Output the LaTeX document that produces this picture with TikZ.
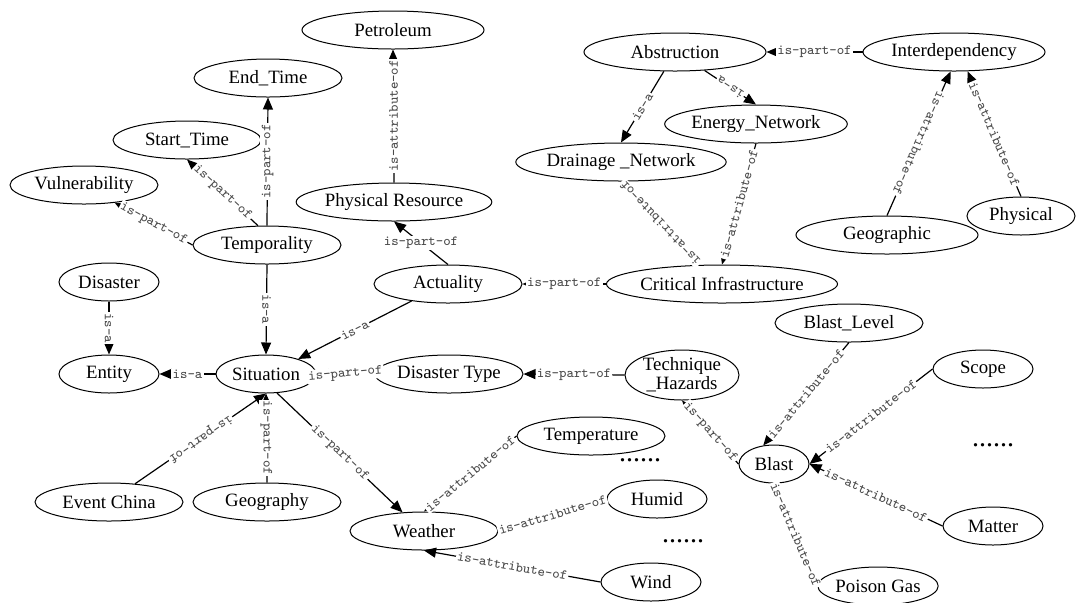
\documentclass[tikz,border=0pt]{standalone}
\usepackage{fontspec}
\setmainfont{Liberation Serif}
\usetikzlibrary{shapes.geometric,arrows.meta}
\definecolor{lab}{HTML}{4A4A4A}
\tikzset{
  ent/.style={ellipse,draw,line width=0.5pt,inner sep=0pt,minimum height=19pt,font=\fontsize{9.4}{9.6}\selectfont},
  w1/.style={ent,minimum width=50pt},
  w2/.style={ent,minimum width=74pt},
  w3/.style={ent,minimum width=91pt},
  w4/.style={ent,minimum width=104pt},
  lbl/.style={font=\fontsize{7}{8}\selectfont\ttfamily,text=lab,fill=white,inner sep=0.6pt},
  etc/.style={font=\fontsize{14}{14}\selectfont}
}

\begin{document}
\begin{tikzpicture}[x=0.5pt,y=-0.5pt,line width=0.6pt,>={Triangle[length=6pt,width=5pt]}]
\useasboundingbox (0,0) rectangle (1077,602);
\node[w3] (petroleum) at (393,30) {Petroleum};
\node[w2] (endtime) at (268,78) {End\_Time};
\node[w2] (starttime) at (187,140) {Start\_Time};
\node[w2] (vulner) at (84,185) {Vulnerability};
\node[w2] (temporality) at (267,245) {Temporality};
\node[w1] (disaster) at (109,282) {Disaster};
\node[w3] (physres) at (394,202) {Physical Resource};
\node[w2] (actuality) at (448,284) {Actuality};
\node[w3] (abstruction) at (675,52) {Abstruction};
\node[w3] (interdep) at (954,52) {Interdependency};
\node[w3] (energy) at (756,124) {Energy\_Network};
\node[w4] (drainage) at (621,162) {Drainage \_Network};
\node[w4] (critical) at (722,284) {Critical Infrastructure};
\node[w3] (geographic) at (887,235) {Geographic};
\node[ent,minimum width=54pt] (physical) at (1021,216) {Physical};
\node[w1] (entity) at (109,374) {Entity};
\node[w1] (situation) at (266,374) {Situation};
\node[w2] (eventchina) at (109,502) {Event China};
\node[w2] (geography) at (267,502) {Geography};
\node[w2] (distype) at (449,374) {Disaster Type};
\node[ent,minimum width=57pt,minimum height=25pt,align=center] (technique) at (682,375) {Technique\\\_Hazards};
\node[w2] (temperature) at (591,436) {Temperature};
\node[w1] (humid) at (657,499) {Humid};
\node[w2] (weather) at (424,531) {Weather};
\node[w1] (wind) at (651,582) {Wind};
\node[w2] (blastlevel) at (849,323) {Blast\_Level};
\node[w1] (scope) at (983,369) {Scope};
\node[ent,minimum width=35pt] (blast) at (774,464) {Blast};
\node[w1] (matter) at (993,526) {Matter};
\node[ent,minimum width=60pt] (poisongas) at (878,586) {Poison Gas};
\node[etc] (etcA) at (640,460) {......};
\node[etc] (etcB) at (683,541) {......};
\node[etc] (etcC) at (993,445) {......};

\draw[->] (temporality.north) -- node[lbl,rotate=90] {is-part-of} (endtime.south);
\draw[->] (temporality.115) -- node[lbl,sloped] {is-part-of} (starttime.south);
\draw[->] (temporality.west) -- node[lbl,sloped] {is-part-of} (vulner.-30);
\draw[->] (temporality.south) -- node[lbl,rotate=-90] {is-a} (situation.north);
\draw[->] (disaster.south) -- node[lbl,rotate=-90] {is-a} (entity.north);
\draw[->] (situation.west) -- node[lbl] {is-a} (entity.east);
\draw[->] (actuality.205) -- node[lbl,sloped] {is-a} (situation.25);
\draw[->] (actuality.north) -- node[lbl] {is-part-of} (physres.south);
\draw[->] (physres.north) -- node[lbl,rotate=90] {is-attribute-of} (petroleum.south);
\draw[->] (critical.west) -- node[lbl] {is-part-of} (actuality.east);
\draw[->] (interdep.west) -- node[lbl] {is-part-of} (abstruction.east);
\draw[->] (abstruction.-120) -- node[lbl,sloped] {is-a} (drainage.north);
\draw[<-] (energy.north) -- node[lbl,sloped,allow upside down] {is-a} (abstruction.-32);
\draw[->] (energy.south) -- node[lbl,sloped] {is-attribute-of} (critical.north);
\draw[<-] (critical.140) -- node[lbl,sloped,allow upside down] {is-attribute-of} (drainage.south);
\draw[<-] (interdep.-100) -- node[lbl,sloped,allow upside down] {is-attribute-of} (geographic.north);
\draw[->] (physical.north) -- node[lbl,sloped] {is-attribute-of} (interdep.-55);
\draw[<-] (situation.south) -- node[lbl,sloped,allow upside down] {is-part-of} (eventchina.35);
\draw[->] (geography.north) -- node[lbl,rotate=-90] {is-part-of} (situation.south);
\draw[->] (situation.-60) -- node[lbl,sloped] {is-part-of} (weather.139);
\draw[->] (distype.west) -- node[lbl,rotate=5] {is-part-of} (situation.east);
\draw[->] (technique.west) -- node[lbl] {is-part-of} (distype.east);
\draw[->] (blast.west) -- node[lbl,sloped] {is-part-of} (technique.south);
\draw[->] (temperature.west) -- node[lbl,sloped] {is-attribute-of} (weather.north);
\draw[->] (humid.west) -- node[lbl,sloped] {is-attribute-of} (weather.east);
\draw[->] (wind.west) -- node[lbl,sloped] {is-attribute-of} (weather.south);
\draw[->] (blastlevel.south) -- node[lbl,sloped] {is-attribute-of} (blast.120);
\draw[->] (scope.west) -- node[lbl,sloped] {is-attribute-of} (blast.east);
\draw[->] (matter.west) -- node[lbl,sloped] {is-attribute-of} (blast.east);
\draw[->] (poisongas.west) -- node[lbl,sloped] {is-attribute-of} (blast.south);
\end{tikzpicture}
\end{document}
